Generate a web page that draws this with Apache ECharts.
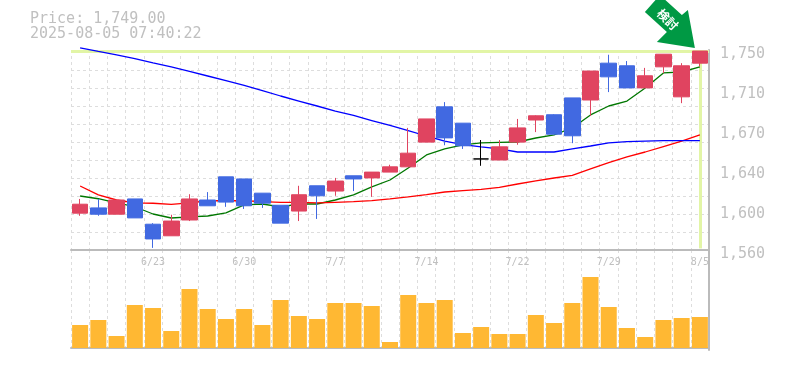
<!DOCTYPE html>
<html><head><meta charset="utf-8">
<style>html,body{margin:0;padding:0;background:#fff}#c{width:785px;height:370px}</style>
<script src="https://cdn.jsdelivr.net/npm/echarts@6/dist/echarts.min.js"></script>
</head><body><div id="c"></div>
<script>
const dates=['6/17','6/18','6/19','6/20','6/23','6/24','6/25','6/26','6/27','6/30','7/1','7/2','7/3','7/4','7/7','7/8','7/9','7/10','7/11','7/14','7/15','7/16','7/17','7/18','7/22','7/23','7/24','7/25','7/28','7/29','7/30','7/31','8/1','8/4','8/5'];
const shownDates=['6/23','6/30','7/7','7/14','7/22','7/29','8/5'];
const priceTicks=['1,560','1,600','1,640','1,670','1,710','1,750'];
const opens=[1595,1600,1594,1608.5,1584.5,1573.5,1588.5,1607.5,1629.5,1627.5,1614,1602.5,1597,1621,1616,1630.5,1628.5,1634,1639,1662.5,1696,1680.5,1646.5,1645.5,1662.5,1683.5,1688.5,1704.5,1702.5,1737.5,1735,1714,1734,1705.5,1737.5];
const closes=[1603.5,1594,1607.5,1590.5,1570.5,1587.5,1608.5,1602,1605.5,1602,1604.5,1585.5,1612.5,1611.5,1625.5,1627.5,1634,1639,1652,1684.5,1666.5,1659,1646.5,1658,1676,1687.5,1670,1668.5,1730,1724.5,1714,1725.5,1746,1735,1749];
const lows=[1592.5,1592.5,1594,1590.5,1562,1573.5,1587.5,1602,1601,1599,1600,1585.5,1587.5,1589.5,1611.5,1616,1610.5,1634,1639,1662.5,1659.5,1656,1640,1645.5,1660,1672,1670,1661.5,1687.5,1710,1714,1714,1728,1699.5,1734.5];
const highs=[1608.5,1608.5,1607.5,1608.5,1585.5,1593.5,1613,1615,1629.5,1627.5,1614,1602.5,1621,1621,1628.5,1630.5,1634,1641,1676,1684.5,1700.5,1680.5,1664.5,1664.5,1684.5,1688,1689,1704.5,1730,1745.5,1739.5,1733,1746,1737.5,1749];
const maShort=[1611.3,1608.7,1604.7,1601.1,1594.2,1590.4,1591.4,1592.3,1595.2,1602.8,1603.7,1600.9,1603.7,1603.7,1607.5,1612.3,1619.9,1626.5,1637.9,1650.3,1656,1659.8,1661.7,1662.3,1662.6,1666.4,1669.3,1675.9,1688.3,1696.8,1701.5,1713.9,1728.2,1729.1,1733.9];
const maMid=[1752,1748.6,1745.3,1741.9,1737.7,1733.9,1729.6,1725.3,1721,1716.3,1711.5,1706.3,1701.5,1696.8,1692,1687.8,1683,1678.3,1673.5,1668.3,1663.5,1660.2,1657.9,1656,1653.1,1653.1,1653.1,1656,1658.8,1661.7,1663,1663.5,1664,1664,1664];
const maLong=[1620.8,1612.3,1607.5,1604.7,1604.4,1603.4,1604.7,1606.8,1606.8,1606.8,1605.9,1605.3,1605.3,1604.7,1605.3,1605.9,1607,1608.5,1610.4,1612.7,1615.1,1616.5,1617.5,1619.4,1622.7,1625.6,1628.4,1630.8,1637,1643.1,1648.4,1653.1,1658.3,1663.5,1669.3];
const volumes=[23,28,12,43,40,17,59,39,29,39,23,48,32,29,45,45,42,6,53,45,48,15,21,14,14,33,25,45,71,41,20,11,28,30,31];
const lastPrice=1749;
const dojiIndex=22;

const gray='#c0c0c0', gridC='#dddddd', axisC='#bbbbbb', mono='"DejaVu Sans Mono",monospace';
const vSplit={show:true,interval:0,lineStyle:{color:gridC,type:[3,3],width:1}};
const candleData=dates.map((d,i)=>{
  const v=[opens[i],closes[i],lows[i],highs[i]];
  return i===dojiIndex?{value:v,itemStyle:{color:'#000',color0:'#000',borderColor:'#000',borderColor0:'#000',borderColorDoji:'#000'}}:v;
});
const maLine=(data,color)=>({type:'line',data,xAxisIndex:0,yAxisIndex:0,showSymbol:false,symbol:'none',clip:false,z:3,
  lineStyle:{color,width:1.3},itemStyle:{color},silent:true});
const chart=echarts.init(document.getElementById('c'),null,{renderer:'canvas'});
chart.setOption({
  animation:false,
  backgroundColor:'#fff',
  title:{left:25,top:7,text:'Price: 1,749.00\n2025-08-05 07:40:22',
    textStyle:{fontFamily:mono,fontSize:15,fontWeight:'normal',color:gray,lineHeight:15}},
  grid:[
    {left:71,width:638,top:50,height:200},
    {left:71,width:638,top:250,height:100},
    {left:71,width:638,top:54,height:200}
  ],
  xAxis:[
    {type:'category',gridIndex:0,data:dates,boundaryGap:true,
      axisLine:{show:true,lineStyle:{color:axisC,width:2}},axisTick:{show:false},splitLine:vSplit,
      axisLabel:{show:true,interval:(i,v)=>shownDates.includes(v),margin:7,fontFamily:mono,fontSize:10,color:gray,hideOverlap:false}},
    {type:'category',gridIndex:1,data:dates,boundaryGap:true,
      axisLine:{show:true,lineStyle:{color:axisC,width:2}},axisTick:{show:false},axisLabel:{show:false},splitLine:vSplit},
    {type:'value',gridIndex:2,show:false,min:0,max:1,splitLine:{show:false}}
  ],
  yAxis:[
    {type:'value',gridIndex:0,min:1560,max:1750,show:false,scale:true,splitLine:{show:false}},
    {type:'value',gridIndex:0,min:0,max:200/18,interval:1,position:'right',
      axisLine:{show:true,onZero:false,lineStyle:{color:axisC,width:2}},axisTick:{show:false},axisLabel:{show:false},
      splitLine:{show:true,lineStyle:{color:gridC,type:[3,3],width:1}}},
    {type:'value',gridIndex:1,min:-2,max:98,position:'right',
      axisLine:{show:true,onZero:false,lineStyle:{color:axisC,width:2}},axisTick:{show:false},axisLabel:{show:false},splitLine:{show:false}},
    {type:'value',gridIndex:2,min:0,max:5,interval:1,position:'right',
      axisLine:{show:false},axisTick:{show:false},splitLine:{show:false},
      axisLabel:{show:true,margin:11,fontFamily:mono,fontSize:15,color:gray,formatter:v=>priceTicks[v]}}
  ],
  series:[
    {type:'line',data:[],xAxisIndex:0,yAxisIndex:0,z:1,silent:true,
      markLine:{z:1,silent:true,symbol:'none',label:{show:false},animation:false,
        lineStyle:{color:'#e2f5a6',width:3,type:'solid'},
        data:[{yAxis:lastPrice},[{coord:[dates[dates.length-1],lastPrice]},{coord:[dates[dates.length-1],1561.5]}]]}},
    maLine(maShort,'#007700'),
    maLine(maLong,'#ff0000'),
    maLine(maMid,'#0000ff'),
    {type:'candlestick',data:candleData,xAxisIndex:0,yAxisIndex:0,barWidth:16,z:4,silent:true,
      itemStyle:{color:'#e04460',color0:'#4169e1',borderColor:'#e04460',borderColor0:'#4169e1',borderWidth:1},
      markPoint:{silent:true,animation:false,
        data:[{coord:[dates[dates.length-1],lastPrice],
          symbol:'path://M0 17L15 0L37 20L43 15L50 53L12 47L22 37Z',
          symbolSize:[50,53],symbolOffset:[-30,-29.5],symbolKeepAspect:false,
          itemStyle:{color:'#009944'},
          label:{show:true,position:'inside',offset:[-3,0],rotate:-45,formatter:'検討',color:'#fff',
            fontFamily:'"Noto Sans CJK JP"',fontSize:12,fontWeight:'bold'}}]}},
    {type:'bar',data:volumes,xAxisIndex:1,yAxisIndex:2,barWidth:16,itemStyle:{color:'#ffb833'},silent:true}
  ]
});
</script></body></html>
